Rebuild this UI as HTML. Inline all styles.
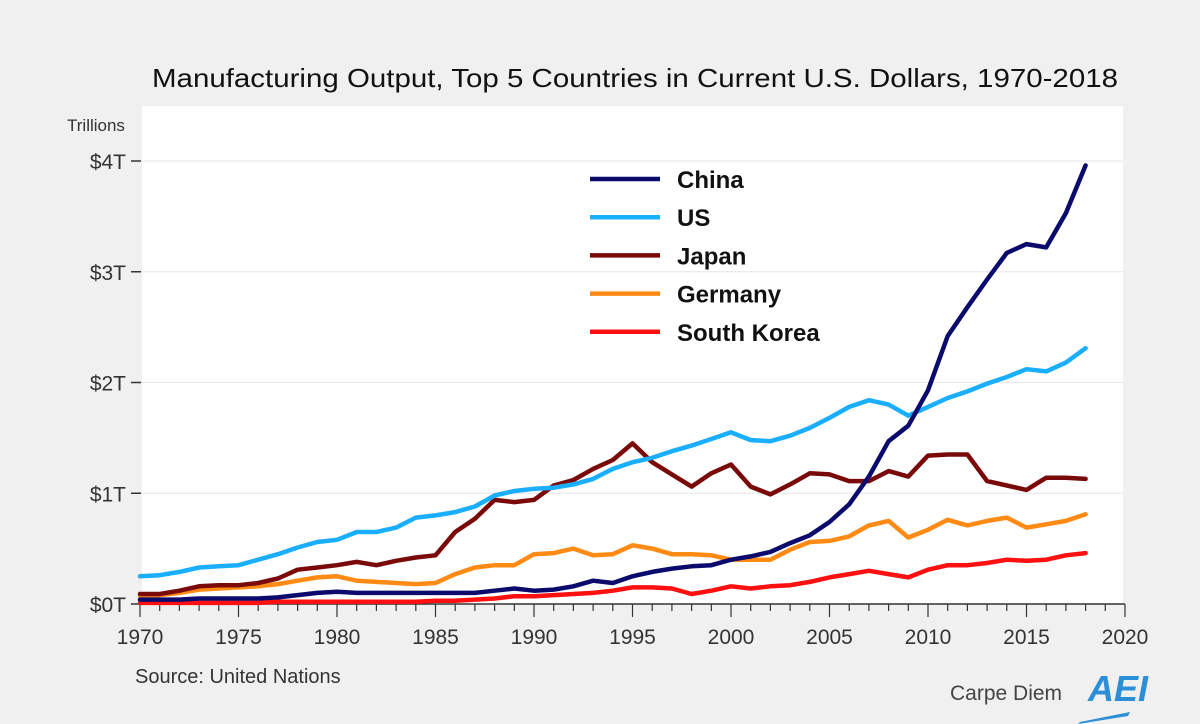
<!DOCTYPE html>
<html><head><meta charset="utf-8"><style>
body{margin:0;background:#f0f0f0;}
svg{display:block;font-family:"Liberation Sans",sans-serif;}
</style></head><body>
<svg id="chart" width="1200" height="724">
<rect width="1200" height="724" fill="#f0f0f0"/>
<rect x="142" y="106" width="981" height="498" fill="#fff"/>
<text x="152" y="87" font-size="26" fill="#111" textLength="966" lengthAdjust="spacingAndGlyphs">Manufacturing Output, Top 5 Countries in Current U.S. Dollars, 1970-2018</text>
<text x="67" y="131" font-size="17" fill="#333">Trillions</text>
<g id="grid"></g><g id="axes"></g><g id="lines"></g><g id="legend"></g>
<text x="135" y="683" font-size="20" fill="#333">Source: United Nations</text>
<text x="950" y="700" font-size="21" fill="#444">Carpe Diem</text>
<g>
<text x="1088" y="701" font-size="36" font-weight="bold" font-style="italic" fill="#2a8fd6">AEI</text>
<polygon points="1080,722 1130,712 1128,716 1078,724" fill="#2a8fd6"/>
</g>
</svg>
<script>
const years=[];for(let y=1970;y<=2018;y++)years.push(y);
const china=[0.04,0.04,0.04,0.05,0.05,0.05,0.05,0.06,0.08,0.10,0.11,0.10,0.10,0.10,0.10,0.10,0.10,0.10,0.12,0.14,0.12,0.13,0.16,0.21,0.19,0.25,0.29,0.32,0.34,0.35,0.40,0.43,0.47,0.55,0.62,0.74,0.90,1.15,1.47,1.61,1.93,2.42,2.68,2.93,3.17,3.25,3.22,3.53,3.96];
const us=[0.25,0.26,0.29,0.33,0.34,0.35,0.40,0.45,0.51,0.56,0.58,0.65,0.65,0.69,0.78,0.80,0.83,0.88,0.98,1.02,1.04,1.05,1.08,1.13,1.22,1.28,1.32,1.38,1.43,1.49,1.55,1.48,1.47,1.52,1.59,1.68,1.78,1.84,1.80,1.70,1.78,1.86,1.92,1.99,2.05,2.12,2.10,2.18,2.31];
const japan=[0.09,0.09,0.12,0.16,0.17,0.17,0.19,0.23,0.31,0.33,0.35,0.38,0.35,0.39,0.42,0.44,0.65,0.77,0.94,0.92,0.94,1.07,1.12,1.22,1.30,1.45,1.28,1.17,1.06,1.18,1.26,1.06,0.99,1.08,1.18,1.17,1.11,1.11,1.20,1.15,1.34,1.35,1.35,1.11,1.07,1.03,1.14,1.14,1.13];
const germany=[0.07,0.08,0.10,0.13,0.14,0.15,0.16,0.18,0.21,0.24,0.25,0.21,0.20,0.19,0.18,0.19,0.27,0.33,0.35,0.35,0.45,0.46,0.50,0.44,0.45,0.53,0.50,0.45,0.45,0.44,0.40,0.40,0.40,0.49,0.56,0.57,0.61,0.71,0.75,0.60,0.67,0.76,0.71,0.75,0.78,0.69,0.72,0.75,0.81];
const korea=[0.01,0.01,0.01,0.01,0.01,0.01,0.01,0.02,0.02,0.02,0.02,0.02,0.02,0.02,0.02,0.03,0.03,0.04,0.05,0.07,0.07,0.08,0.09,0.10,0.12,0.15,0.15,0.14,0.09,0.12,0.16,0.14,0.16,0.17,0.20,0.24,0.27,0.30,0.27,0.24,0.31,0.35,0.35,0.37,0.40,0.39,0.40,0.44,0.46];
const yTicks=[0,1,2,3,4];
const yTickLabels=["$0T","$1T","$2T","$3T","$4T"];
const xTicks=[1970,1975,1980,1985,1990,1995,2000,2005,2010,2015,2020];
const seriesNames=["China","US","Japan","Germany","South Korea"];
const seriesColors=["#0b0b6e","#1aaeff","#7a0a0a","#ff8a14","#ff1010"];
const seriesData=[china,us,japan,germany,korea];
const NS="http://www.w3.org/2000/svg";
const X=y=>140+(y-1970)*(1125-140)/50;
const Y=v=>604-v*110.75;
function mk(t,a,p){const e=document.createElementNS(NS,t);for(const k in a)e.setAttribute(k,a[k]);p.appendChild(e);return e;}
const grid=document.getElementById('grid'),axes=document.getElementById('axes'),lines=document.getElementById('lines'),legend=document.getElementById('legend');
yTicks.forEach((v,i)=>{
 if(v>0){const g=mk('line',{x1:142,x2:1123,y1:Y(v),y2:Y(v),stroke:'#e6e6e6','stroke-width':1},grid);
 
 }
 const t=mk('line',{x1:131,x2:141,y1:Y(v),y2:Y(v),stroke:'#333','stroke-width':1.5},axes);
 
 
 const l=mk('text',{x:126,y:Y(v)+8,'text-anchor':'end','font-size':21,fill:'#333'},axes);l.textContent=yTickLabels[i];
 
 
});
const ax=mk('line',{x1:140,x2:1125,y1:604,y2:604,stroke:'#333','stroke-width':1.5},axes);


for(let y=1970;y<=2020;y++){
 const major=y%5===0;
 const t=mk('line',{x1:X(y),x2:X(y),y1:604,y2:major?617:611,stroke:'#333','stroke-width':1.2},axes);
 
 
}
xTicks.forEach(y=>{
 const l=mk('text',{x:X(y),y:644,'text-anchor':'middle','font-size':21,fill:'#333'},axes);l.textContent=y;
 
 
});
for(let s=seriesData.length-1;s>=0;s--){
 const pts=seriesData[s].map((v,i)=>X(years[i]).toFixed(1)+','+Y(v).toFixed(1)).join(' ');
 const p=mk('polyline',{points:pts,fill:'none',stroke:seriesColors[s],'stroke-width':4.5,'stroke-linejoin':'round','stroke-linecap':'round'},lines);
 
 
}
seriesNames.forEach((n,i)=>{
 const y=179+i*38.2;
 const g=mk('g',{},legend);
 
 
 mk('line',{x1:590,x2:660,y1:y,y2:y,stroke:seriesColors[i],'stroke-width':4.5},g);
 const t=mk('text',{x:677,y:y+9,'font-size':24,'font-weight':'bold',fill:'#111'},g);t.textContent=n;
});
</script>
</body></html>
